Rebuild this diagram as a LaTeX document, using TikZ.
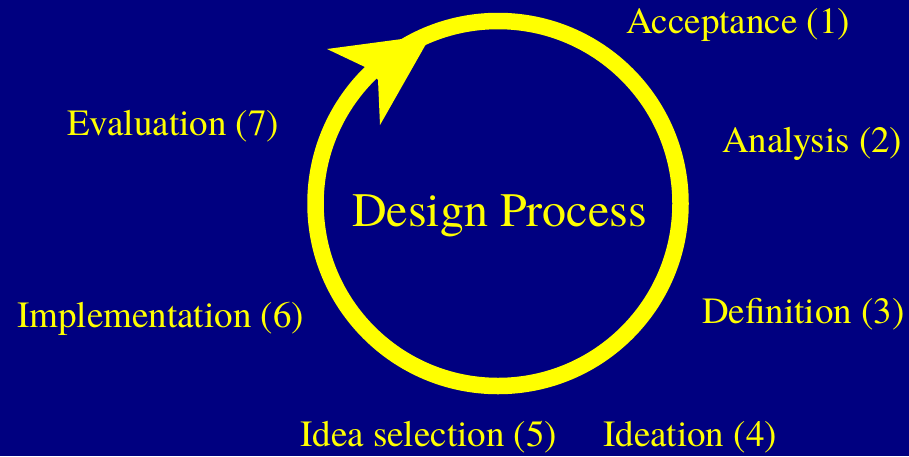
\documentclass[tikz,border=0pt]{standalone}
\usepackage{fontspec}
\setmainfont{TeX Gyre Termes}
\definecolor{navy}{HTML}{000080}
\definecolor{lemon}{HTML}{FFFF00}
\tikzset{
  stage/.style={anchor=base west, inner sep=0pt, text=lemon,
    font=\fontsize{37}{40}\selectfont},
  title/.style={anchor=base west, inner sep=0pt, text=lemon,
    font=\fontsize{48}{52}\selectfont}
}
\begin{document}
\begin{tikzpicture}[x=1pt,y=-1pt]

  \def\cx{498}
  \def\cy{203.5}
  \def\rad{182.5}

  % background
  \fill[navy] (0,0) rectangle (909,456);
  \useasboundingbox (0,0) rectangle (909,456);

  % cycle and arrow head
  \draw[lemon, line width=16.5pt] (\cx,\cy) circle (\rad);
  \fill[lemon] (327,49) -- (365,67) -- (378,80) -- (380,125)
    -- (426,44) -- (402,39) -- cycle;

  % centre text
  \node[title] (design) at (352,226) {Design Process};

  % stages
  \node[stage] (accept) at (626,33.5) {Acceptance (1)};
  \node[stage] (analysis) at (722,152) {Analysis (2)};
  \node[stage] (define) at (702,323) {Definition (3)};
  \node[stage] (ideate) at (603,446) {Ideation (4)};
  \node[stage] (select) at (300,446) {Idea selection (5)};
  \node[stage] (implement) at (17,327) {Implementation (6)};
  \node[stage] (evaluate) at (67,135) {Evaluation (7)};

\end{tikzpicture}
\end{document}
